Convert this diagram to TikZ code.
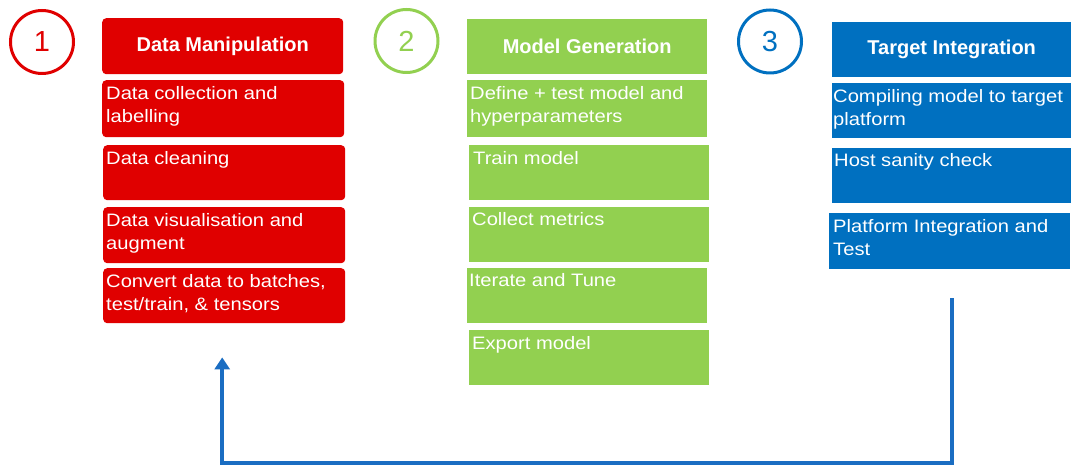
\documentclass[tikz,border=0pt]{standalone}
\usepackage{fontspec}
\setmainfont{Liberation Sans}
\newfontfamily\bodyfont{Liberation Sans}[FakeStretch=1.12]
\usetikzlibrary{arrows.meta}
\definecolor{stepred}{HTML}{E00000}
\definecolor{stepgreen}{HTML}{92D050}
\definecolor{stepblue}{HTML}{0070C0}
\definecolor{loopblue}{HTML}{1A6DC2}

\begin{document}
\begin{tikzpicture}[x=1pt,y=-1pt,
  panel/.style={rectangle, inner sep=0pt, anchor=north west},
  redpanel/.style={panel, fill=stepred, rounded corners=4pt},
  greenpanel/.style={panel, fill=stepgreen},
  bluepanel/.style={panel, fill=stepblue},
  headtext/.style={text=white, font=\fontsize{20}{24}\selectfont\bfseries},
  bodytext/.style={text=white, anchor=base west, inner sep=0pt, align=left,
    font=\bodyfont\fontsize{18}{23}\selectfont},
  stepnum/.style={circle, draw=#1, text=#1, line width=3pt, minimum size=63pt,
    inner sep=0pt, font=\fontsize{29}{30}\selectfont},
  feedback/.style={draw=loopblue, line width=4pt, line join=miter,
    -{Triangle[width=15pt,length=12pt]}},
]
\useasboundingbox (0,0) rectangle (1071,470);

% step numbers
\node[stepnum=stepred]   (c1) at (42,42)    {1};
\node[stepnum=stepgreen] (c2) at (406.5,41) {2};
\node[stepnum=stepblue]  (c3) at (770,41.5) {3};

% 1: data manipulation
\node[redpanel, minimum width=241pt, minimum height=56pt, headtext] (r0) at (102,18) {Data Manipulation};
\node[redpanel, minimum width=242pt, minimum height=57pt] (r1) at (102,80) {};
\node[redpanel, minimum width=242pt, minimum height=55pt] (r2) at (103,145) {};
\node[redpanel, minimum width=242pt, minimum height=56pt] (r3) at (103,207) {};
\node[redpanel, minimum width=242pt, minimum height=55pt] (r4) at (103,268) {};
% two-line texts sit on the baseline of their second line
\node[bodytext] (r1t) at ([shift={(4,43)}]r1.north west) {Data collection and\\labelling};
\node[bodytext] (r2t) at ([shift={(3,20)}]r2.north west) {Data cleaning};
\node[bodytext] (r3t) at ([shift={(3,43)}]r3.north west) {Data visualisation and\\augment};
\node[bodytext] (r4t) at ([shift={(3,43)}]r4.north west) {Convert data to batches,\\test/train, \& tensors};

% 2: model generation
\node[greenpanel, minimum width=240pt, minimum height=55pt, headtext] (g0) at (467,19) {Model Generation};
\node[greenpanel, minimum width=240pt, minimum height=57pt] (g1) at (467,80) {};
\node[greenpanel, minimum width=240pt, minimum height=55pt] (g2) at (469,145) {};
\node[greenpanel, minimum width=240pt, minimum height=55pt] (g3) at (469,207) {};
\node[greenpanel, minimum width=240pt, minimum height=55pt] (g4) at (467,268) {};
\node[greenpanel, minimum width=240pt, minimum height=55pt] (g5) at (469,330) {};
\node[bodytext] (g1t) at ([shift={(3,43)}]g1.north west) {Define + test model and\\hyperparameters};
\node[bodytext] (g2t) at ([shift={(4,20)}]g2.north west) {Train model};
\node[bodytext] (g3t) at ([shift={(3,19)}]g3.north west) {Collect metrics};
\node[bodytext] (g4t) at ([shift={(2,19)}]g4.north west) {Iterate and Tune};
\node[bodytext] (g5t) at ([shift={(3,19)}]g5.north west) {Export model};

% 3: target integration
\node[bluepanel, minimum width=239pt, minimum height=55pt, headtext] (b0) at (832,22) {Target Integration};
\node[bluepanel, minimum width=239pt, minimum height=55pt] (b1) at (832,83) {};
\node[bluepanel, minimum width=239pt, minimum height=55pt] (b2) at (832,148) {};
\node[bluepanel, minimum width=241pt, minimum height=56pt] (b3) at (829,213) {};
\node[bodytext] (b1t) at ([shift={(1,43)}]b1.north west) {Compiling model to target\\platform};
\node[bodytext] (b2t) at ([shift={(2,19)}]b2.north west) {Host sanity check};
\node[bodytext] (b3t) at ([shift={(4,43)}]b3.north west) {Platform Integration and\\Test};

% feedback loop from integration back to data
\coordinate (loopstart) at ([shift={(2,29)}]b3.south);
\coordinate (loopend)   at ([shift={(-2,34)}]r4.south);
\coordinate (loopturn)  at ([shift={(0,106)}]loopend);
\draw[feedback] (loopstart) |- (loopturn) -- (loopend);
\end{tikzpicture}
\end{document}
